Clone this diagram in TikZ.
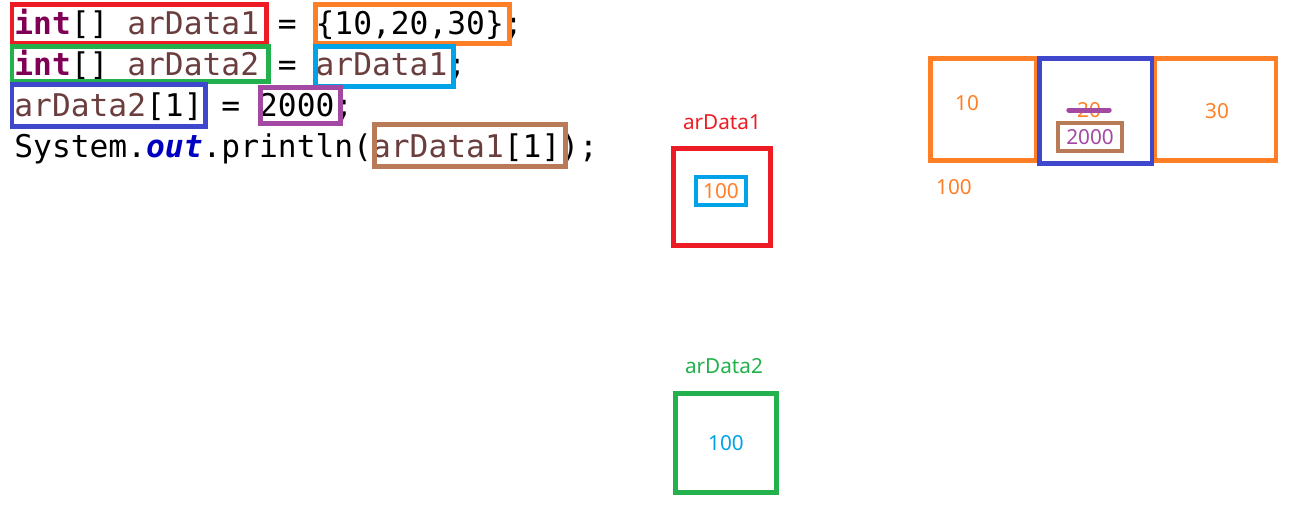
\documentclass[tikz,border=0pt]{standalone}
\usepackage{fontspec}
\setmainfont{Noto Sans}
\setmonofont{DejaVu Sans Mono}
\usetikzlibrary{positioning}

\definecolor{pred}{HTML}{ED1C24}
\definecolor{porange}{HTML}{FF7F27}
\definecolor{pgreen}{HTML}{22B14C}
\definecolor{pcyan}{HTML}{00A2E8}
\definecolor{pblue}{HTML}{3F48CC}
\definecolor{ppurple}{HTML}{A349A4}
\definecolor{pbrown}{HTML}{B97A57}
\definecolor{kwcol}{HTML}{7F0055}
\definecolor{varcol}{HTML}{6A3E3E}
\definecolor{fldcol}{HTML}{0000C0}

\newcommand{\kw}[1]{\textcolor{kwcol}{\textbf{#1}}}
\newcommand{\vr}[1]{\textcolor{varcol}{#1}}
\newcommand{\fld}[1]{\textcolor{fldcol}{\textbf{\textit{#1}}}}

\tikzset{
  code/.style={anchor=base west,inner sep=0pt,font=\ttfamily\fontsize{17.8pt}{20pt}\selectfont},
  hl/.style={line width=0.1cm},
  cell/.style={draw,line width=0.1cm,minimum width=2cm,minimum height=2cm,inner sep=0pt},
  memtxt/.style={inner sep=0pt,font=\fontsize{11.8pt}{13pt}\selectfont},
  valbox/.style={draw,line width=0.095cm,minimum height=0.56cm,inner sep=0pt,font=\fontsize{11.8pt}{13pt}\selectfont}
}

\begin{document}
\begin{tikzpicture}[x=0.02cm,y=-0.02cm]
   \useasboundingbox (0,0) rectangle (1309,525);

   % source code
   \node[code] (line1) at (14,34) {\kw{int}[] \vr{arData1} = \{10,20,30\};};
   \node[code] (line2) at (14,75) {\kw{int}[] \vr{arData2} = \vr{arData1};};
   \node[code] (line3) at (14,116) {\vr{arData2}[1] = 2000;};
   \node[code] (line4) at (14,157) {System.\fld{out}.println(\vr{arData1}[1]);};

   % highlights in the code
   \draw[hl,pred] (12,4) rectangle (266,43);
   \draw[hl,porange] (315,4) rectangle (509,43);
   \draw[hl,pgreen] (12,46) rectangle (268,81);
   \draw[hl,pcyan] (315,46) rectangle (453,86);
   \draw[hl,pblue] (12,84) rectangle (205,126);
   \draw[hl,ppurple] (260,87) rectangle (340,123);
   \draw[hl,pbrown] (374,124) rectangle (565,166);

   % arData1
   \node[memtxt,text=pred] (name1) at (722,122) {arData1};
   \node[cell,draw=pred,minimum width=1.96cm,minimum height=1.96cm] (ref1) at (722,197) {};
   \node[valbox,draw=pcyan,text=porange,minimum width=1cm] (val1) at (721,191) {100};

   % arData2
   \node[memtxt,text=pgreen] (name2) at (724,366) {arData2};
   \node[cell,draw=pgreen,minimum width=2.04cm,minimum height=1.98cm] (ref2) at (726,443) {};
   \node[memtxt,text=pcyan] (val2) at (726,443) {100};

   % the array
   \node[cell,draw=porange,minimum width=2.14cm,minimum height=2.06cm] (arr0) at (983.5,109.5) {};
   \node[cell,draw=porange,minimum width=2.44cm,minimum height=2.06cm] (arr2) at (1215,109.5) {};
   \node[cell,draw=pblue,minimum width=2.26cm,minimum height=2.12cm] (arr1) at (1095.5,111) {};
   \node[memtxt,text=porange] (v10) at (967,103) {10};
   \node[memtxt,text=porange] (v20) at (1089,110) {20};
   \node[memtxt,text=porange] (v30) at (1217,111) {30};
   \draw[ppurple,line width=0.1cm,line cap=round] ([xshift=-0.16cm]v20.west) -- ([xshift=0.16cm]v20.east);
   \node[valbox,draw=pbrown,text=ppurple,minimum width=1.28cm] (v2000) at (1090,137) {2000};
   \node[memtxt,text=porange] (addr) at (954,187) {100};
\end{tikzpicture}
\end{document}
